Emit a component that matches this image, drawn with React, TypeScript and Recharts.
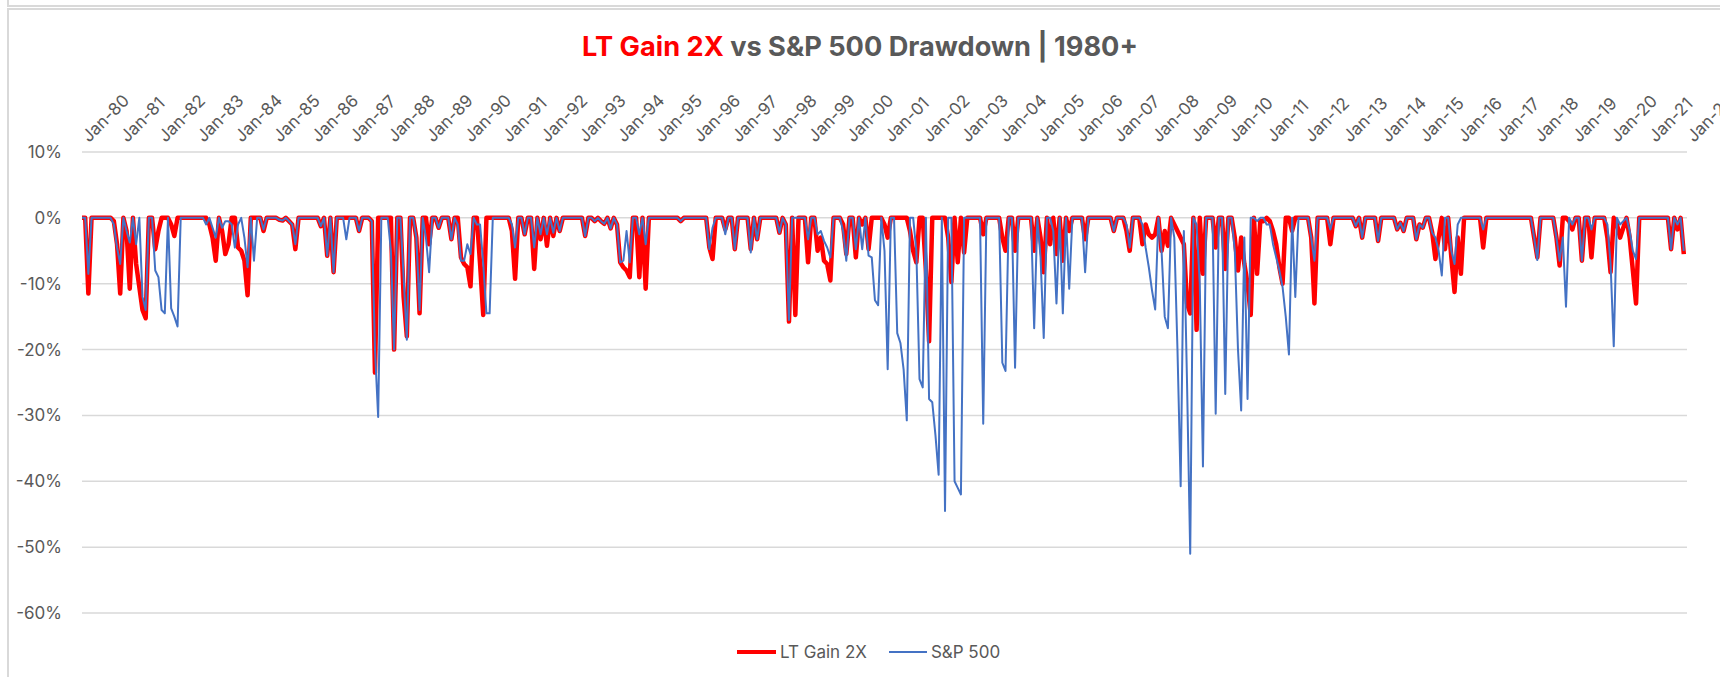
import { LineChart, Line, XAxis, YAxis, CartesianGrid } from "recharts";

// monthly drawdown, Jan 1980 .. Dec 2021 (one row per year)
const ltGain2x = [
  0, 0, -11.5, 0, 0, 0, 0, 0, 0, 0, -0.5, -4, // 1980
  -11.5, 0, -2, -10.75, 0, -7, -10.5, -14, -15.25, 0, 0, -4.75, // 1981
  -2, 0, 0, 0, -1, -2.75, 0, 0, 0, 0, 0, 0, // 1982
  0, 0, 0, 0, -1, -3, -6.5, 0, -2, -5.5, -4, 0, // 1983
  0, -4.5, -5, -6.5, -11.75, 0, 0, 0, 0, -2, 0, 0, // 1984
  0, 0, -0.3, -0.4, 0, -0.5, -1, -4.75, 0, 0, 0, 0, // 1985
  0, 0, 0, -1.25, 0, -5.75, 0, -8.25, 0, 0, 0, 0, // 1986
  0, 0, 0, -2, 0, 0, 0, -0.5, -23.5, 0, 0, 0, // 1987
  0, 0, -20, 0, 0, -12, -18, 0, 0, -3, -14.5, 0, // 1988
  0, -4, 0, 0, -1.5, 0, 0, 0, -3.25, 0, 0, -6, // 1989
  -7, -7.5, -10.4, 0, 0, -7, -14.75, 0, 0, 0, 0, 0, // 1990
  0, 0, 0, -2, -9.25, 0, 0, -2.5, 0, 0, -7.75, 0, // 1991
  -3.25, 0, -4.25, 0, -2.75, 0, -2, 0, 0, 0, 0, 0, // 1992
  0, 0, -2.75, 0, 0, -0.5, 0, -0.5, -0.9, 0, -1.6, 0, // 1993
  -1, -6.75, -7.5, -8, -9, 0, 0, -9, 0, -10.75, 0, 0, // 1994
  0, 0, 0, 0, 0, 0, 0, 0, -0.5, 0, 0, 0, // 1995
  0, 0, 0, 0, 0, -4.5, -6.25, 0, 0, 0, -1.75, 0, // 1996
  0, -4.75, 0, 0, 0, 0, -4.75, 0, -3.25, 0, 0, 0, // 1997
  0, 0, 0, -2.25, 0, -1, -15.75, 0, -14.75, 0, 0, 0, // 1998
  -6.75, 0, 0, -5, -3, -6.5, -7, -9.5, 0, 0, 0, -1, // 1999
  -5.5, 0, 0, -6, 0, -1, 0, -4.75, 0, 0, 0, 0, // 2000
  -1, -3, 0, 0, 0, 0, 0, 0, -2, -5, -6.75, 0, // 2001
  0, -8, -18.75, 0, 0, 0, 0, 0, -3, -9.75, 0, -6.75, // 2002
  0, -5.25, 0, 0, 0, 0, 0, -2.5, 0, 0, 0, 0, // 2003
  0, -3, -5, 0, 0, -5, 0, 0, 0, 0, 0, -5, // 2004
  0, -3, -8.25, 0, -4, 0, -5.5, 0, -6.5, 0, -2, 0, // 2005
  0, 0, 0, -3.25, 0, 0, 0, 0, 0, 0, 0, 0, // 2006
  -2, 0, 0, 0, -2, -5, 0, 0, 0, -4, -1, -2.5, // 2007
  -3, -2.5, 0, -5, -2, -4.25, 0, -1, -2, -3, -4, -13, // 2008
  -14.5, 0, -17, 0, -8.5, 0, 0, 0, -4.5, 0, 0, -7.75, // 2009
  0, 0, -3, -8, -3, -7, -10, -14.75, 0, -8.5, -0.5, -0.5, // 2010
  0, -0.5, -2, -4, -7.5, -10, 0, 0, -2, 0, 0, 0, // 2011
  0, 0, -3, -13, 0, 0, 0, 0, -4, 0, 0, 0, // 2012
  0, 0, 0, 0, -1.25, 0, -3, 0, 0, 0, 0, -3.5, // 2013
  0, 0, 0, 0, 0, -1.75, -0.75, -2, 0, 0, 0, -3.25, // 2014
  -1, -1.5, 0, 0, -2.25, -6.25, -3, 0, -4.75, 0, -6, -11.25, // 2015
  -3, -8.5, 0, 0, 0, 0, 0, 0, -4.5, 0, 0, 0, // 2016
  0, 0, 0, 0, 0, 0, 0, 0, 0, 0, 0, 0, // 2017
  -3, -6, 0, 0, 0, 0, 0, -3, -7.25, 0, 0, -0.5, // 2018
  -1.75, 0, 0, -6.5, 0, 0, -6, 0, 0, 0, 0, -3, // 2019
  -8.25, 0, -1, -3, -1.5, 0, -3, -8, -13, 0, 0, 0, // 2020
  0, 0, 0, 0, 0, 0, 0, -4.75, 0, -1.75, 0, -5.5, // 2021
];

const sp500 = [
  0, 0, -8.5, 0, 0, 0, 0, 0, 0, 0, -1, -4.5, // 1980
  -7, 0, -2, -3.75, 0, -4, 0, -12, -14, 0, 0, -8, // 1981
  -9, -14, -14.5, 0, -13.75, -15, -16.5, 0, 0, 0, 0, 0, // 1982
  0, 0, 0, -1, 0, -1.5, -3, 0, -1.5, -0.5, -0.5, -1, // 1983
  -4.5, -1, 0, -3, -7.5, 0, -6.5, 0, 0, -1.75, 0, 0, // 1984
  0, 0, -0.3, -0.4, 0, -0.5, -1, -4, 0, 0, 0, 0, // 1985
  0, 0, 0, -1.25, 0, -5.75, 0, -8.25, 0, 0, 0, -3.25, // 1986
  0, 0, 0, -2, 0, 0, 0, -0.5, -20, -30.25, 0, 0, // 1987
  0, -5, -20, 0, 0, -9, -18.5, 0, 0, -3, -14, 0, // 1988
  -3, -8.25, 0, 0, -1.5, 0, 0, 0, -3.25, 0, -1, -6.5, // 1989
  -6.5, -4, -5.5, 0, -1, -1, -7, -14.5, -14.5, 0, 0, 0, // 1990
  0, 0, 0, -1, -4.5, 0, 0, -2.5, 0, 0, -4.5, 0, // 1991
  -2.5, 0, -2.5, 0, -2.25, 0, -2, 0, 0, 0, 0, 0, // 1992
  0, 0, -2.75, 0, 0, -0.5, 0, -0.5, -0.9, 0, -1.6, 0, // 1993
  -1, -6.75, -6.5, -2, -6.75, 0, 0, -2.5, 0, -4, 0, 0, // 1994
  0, 0, 0, 0, 0, 0, 0, 0, -0.5, 0, 0, 0, // 1995
  0, 0, 0, 0, 0, -4.75, -1.5, 0, 0, 0, -2.5, 0, // 1996
  0, -4.75, 0, 0, 0, 0, -5.25, 0, -3.25, 0, 0, 0, // 1997
  0, 0, 0, -2.25, 0, -1, -15.5, 0, 0, 0, 0, 0, // 1998
  -3.25, 0, 0, -2.5, -2, -3.5, -4.5, -6, 0, 0, 0, -2, // 1999
  -6.5, 0, 0, -4.75, 0, -4.75, 0, -5.75, -6, -12.5, -13.25, 0, // 2000
  -5, -23, 0, 0, -17.5, -19, -23, -30.75, 0, 0, -5, -24.5, // 2001
  -25.75, 0, -27.5, -28, -33, -39, 0, -44.5, 0, 0, -40, -41, // 2002
  -42, 0, 0, 0, 0, 0, 0, -31.25, 0, 0, 0, 0, // 2003
  0, -22, -23.25, 0, 0, -22.75, 0, 0, 0, 0, 0, -16.75, // 2004
  0, -6, -18.25, 0, 0, -2, -13, 0, -14.5, 0, -10.75, 0, // 2005
  0, 0, 0, -8.25, 0, 0, 0, 0, 0, 0, 0, 0, // 2006
  -2, 0, 0, 0, -1, -4.5, 0, 0, 0, -1, -4.5, -7.5, // 2007
  -11, -13.9, 0, -5, -15, -16.75, 0, -3, -20, -40.75, -2, -25, // 2008
  -51, 0, -1, -10, -37.75, 0, 0, 0, -29.75, 0, 0, -26.75, // 2009
  0, 0, -5, -20, -29.25, -3, -27.5, 0, 0, -0.5, 0, 0, // 2010
  -1, -1, -4, -6, -8, -10.5, -15, -20.75, 0, -12, 0, 0, // 2011
  0, 0, -3, -6.5, 0, 0, 0, 0, -1.75, 0, 0, 0, // 2012
  0, 0, 0, 0, -1.25, 0, -3, 0, 0, 0, 0, -3.5, // 2013
  0, 0, 0, 0, 0, -1.75, -0.75, -2, 0, 0, 0, -3.25, // 2014
  -1, -1.5, 0, 0, -2.25, -3, -5, -8.75, 0, 0, -5, -7, // 2015
  -1, 0, 0, 0, 0, 0, 0, 0, -1.75, 0, 0, 0, // 2016
  0, 0, 0, 0, 0, 0, 0, 0, 0, 0, 0, 0, // 2017
  -3, -6.4, 0, 0, 0, 0, 0, -3, -6.5, -3, -13.5, 0, // 2018
  -1, 0, 0, -6.5, 0, 0, -1.75, 0, 0, 0, 0, -1, // 2019
  -7, -19.5, 0, -1, -0.5, 0, -2, -5, -6.25, 0, 0, 0, // 2020
  0, 0, 0, 0, 0, 0, 0, -4.75, 0, -1, 0, -5, // 2021
];

const tickLabels = [
  "Jan-80", "Jan-81", "Jan-82", "Jan-83", "Jan-84", "Jan-85", "Jan-86", "Jan-87",
  "Jan-88", "Jan-89", "Jan-90", "Jan-91", "Jan-92", "Jan-93", "Jan-94", "Jan-95",
  "Jan-96", "Jan-97", "Jan-98", "Jan-99", "Jan-00", "Jan-01", "Jan-02", "Jan-03",
  "Jan-04", "Jan-05", "Jan-06", "Jan-07", "Jan-08", "Jan-09", "Jan-10", "Jan-11",
  "Jan-12", "Jan-13", "Jan-14", "Jan-15", "Jan-16", "Jan-17", "Jan-18", "Jan-19",
  "Jan-20", "Jan-21", "Jan-22",
];

const yTicks = [10, 0, -10, -20, -30, -40, -50, -60];

const data = ltGain2x.map((v, i) => ({ i, lt: v, sp: sp500[i] }));

const FONT = "Inter, 'Open Sans', sans-serif";
const GREY = "#595959";

const XTick = (props: any) => {
  const { x, payload } = props;
  const tx = x + 7;
  const ty = 143;
  return (
    <text
      x={tx}
      y={ty}
      transform={`rotate(-45 ${tx} ${ty})`}
      textAnchor="start"
      fill={GREY}
      fontSize={17}
      fontFamily={FONT}
    >
      {tickLabels[Math.round(payload.value / 12)]}
    </text>
  );
};

const YTick = (props: any) => {
  const { y, payload } = props;
  return (
    <text x={62} y={y} dy={6} textAnchor="end" fill={GREY} fontSize={17} fontFamily={FONT}>
      {payload.value}%
    </text>
  );
};

export default function App() {
  return (
    <div
      style={{
        position: "absolute",
        left: 0,
        top: 0,
        width: 1720,
        height: 677,
        overflow: "hidden",
        background: "#fff",
        fontFamily: FONT,
      }}
    >
      <div
        style={{
          position: "absolute",
          left: 7,
          top: -20,
          width: 1800,
          height: 23,
          border: "2px solid #d9d9d9",
        }}
      />
      <div
        style={{
          position: "absolute",
          left: 7,
          top: 8,
          width: 1800,
          height: 1000,
          border: "2px solid #d9d9d9",
        }}
      />
      <div
        style={{
          position: "absolute",
          left: 0,
          top: 32,
          width: 1720,
          textAlign: "center",
          fontSize: 27.2,
          fontWeight: 700,
          lineHeight: "30px",
          color: GREY,
        }}
      >
        <span style={{ color: "#FF0000" }}>LT Gain 2X</span> vs S&amp;P 500 Drawdown | 1980+
      </div>

      <div style={{ position: "absolute", left: 0, top: 0 }}>
        <LineChart
          width={1720}
          height={677}
          data={data}
          margin={{ top: 0, right: 33, bottom: 64, left: 0 }}
        >
          <CartesianGrid vertical={false} stroke="#d9d9d9" strokeWidth={1.5} />
          <XAxis
            type="number"
            dataKey="i"
            orientation="top"
            domain={[0, 504]}
            ticks={tickLabels.map((_, k) => k * 12)}
            interval={0}
            height={152}
            axisLine={false}
            tickLine={false}
            tick={<XTick />}
          />
          <YAxis
            domain={[-60, 10]}
            ticks={yTicks}
            interval={0}
            width={82}
            axisLine={false}
            tickLine={false}
            tick={<YTick />}
          />
          <Line
            type="linear"
            dataKey="lt"
            name="LT Gain 2X"
            stroke="#FF0000"
            strokeWidth={4.5}
            strokeLinejoin="round"
            dot={false}
            isAnimationActive={false}
          />
          <Line
            type="linear"
            dataKey="sp"
            name="S&P 500"
            stroke="#4472C4"
            strokeWidth={2}
            strokeLinejoin="round"
            dot={false}
            isAnimationActive={false}
          />
        </LineChart>
      </div>

      <div
        style={{
          position: "absolute",
          left: 737,
          top: 641,
          display: "flex",
          alignItems: "center",
          fontSize: 17,
          color: GREY,
          lineHeight: "22px",
        }}
      >
        <span style={{ width: 39, height: 4, background: "#FF0000", marginRight: 4 }} />
        <span>LT Gain 2X</span>
        <span style={{ width: 38, height: 2, background: "#4472C4", marginLeft: 22, marginRight: 4 }} />
        <span>S&amp;P 500</span>
      </div>
    </div>
  );
}
